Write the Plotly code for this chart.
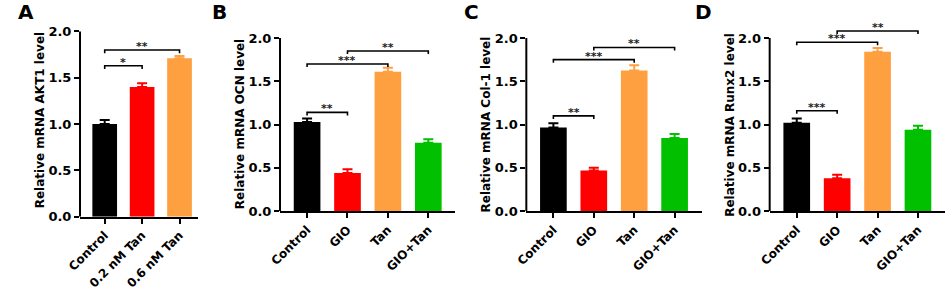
import plotly.graph_objects as go

# ---------------- data ----------------
a_categories = ["Control", "0.2 nM Tan", "0.6 nM Tan"]
a_values = [1.00, 1.40, 1.71]
a_errors = [0.045, 0.04, 0.025]
a_colors = ["#000000", "#FF0000", "#FFA040"]
a_title = "Relative mRNA AKT1 level"
a_brackets = [(0, 1, 1.63, "*"), (0, 2, 1.80, "**")]

bcd_categories = ["Control", "GIO", "Tan", "GIO+Tan"]
bcd_colors = ["#000000", "#FF0000", "#FFA040", "#00C000"]

b_values = [1.03, 0.44, 1.61, 0.79]
b_errors = [0.04, 0.045, 0.045, 0.04]
b_title = "Relative mRNA OCN level"
b_brackets = [(0, 1, 1.14, "**"), (0, 2, 1.70, "***"), (1, 3, 1.85, "**")]

c_values = [0.965, 0.47, 1.625, 0.845]
c_errors = [0.05, 0.03, 0.06, 0.045]
c_title = "Relative mRNA Col-1 level"
c_brackets = [(0, 1, 1.10, "**"), (0, 2, 1.75, "***"), (1, 3, 1.89, "**")]

d_values = [1.02, 0.38, 1.84, 0.94]
d_errors = [0.05, 0.04, 0.045, 0.045]
d_title = "Relative mRNA Runx2 level"
d_brackets = [(0, 1, 1.16, "***"), (0, 2, 1.95, "***"), (1, 3, 2.08, "**")]

y_ticks = [0.0, 0.5, 1.0, 1.5, 2.0]
panel_letters = ["A", "B", "C", "D"]

# ---------------- layout geometry ----------------
W, H = 948, 296
FONT = "DejaVu Sans"
YMAX = 2.25

panels = [
    dict(cats=a_categories, vals=a_values, errs=a_errors, cols=a_colors, title=a_title,
         brackets=a_brackets, xdom=(67, 187), ybot=222.7, y2=32.3, xr=(-0.66, 2.5),
         title_x=26, title_y=124, letter_x=2),
    dict(cats=bcd_categories, vals=b_values, errs=b_errors, cols=bcd_colors, title=b_title,
         brackets=b_brackets, xdom=(270, 448), ybot=217, y2=39, xr=(-0.67, 3.67),
         title_x=229, title_y=128, letter_x=199),
    dict(cats=bcd_categories, vals=c_values, errs=c_errors, cols=bcd_colors, title=c_title,
         brackets=c_brackets, xdom=(520, 698), ybot=217, y2=39, xr=(-0.67, 3.67),
         title_x=479, title_y=128, letter_x=455),
    dict(cats=bcd_categories, vals=d_values, errs=d_errors, cols=bcd_colors, title=d_title,
         brackets=d_brackets, xdom=(767, 945), ybot=217, y2=39, xr=(-0.67, 3.67),
         title_x=726, title_y=128, letter_x=689),
]

fig = go.Figure()
shapes = []
annotations = []
layout = dict(width=W, height=H, margin=dict(l=0, r=0, t=0, b=0),
              plot_bgcolor="white", paper_bgcolor="white", showlegend=False,
              barmode="overlay", font=dict(family=FONT, color="black"))

for i, p in enumerate(panels, start=1):
    xa = "x" if i == 1 else f"x{i}"
    ya = "y" if i == 1 else f"y{i}"
    n = len(p["cats"])
    for k in range(n):
        fig.add_trace(go.Bar(
            x=[k], y=[p["vals"][k]], width=0.66,
            marker=dict(color=p["cols"][k], line=dict(width=0)),
            error_y=dict(type="data", array=[p["errs"][k]], arrayminus=[0], symmetric=False,
                         color=p["cols"][k], thickness=2, width=5),
            xaxis=xa, yaxis=ya, hoverinfo="skip"))

    px_per_unit = (p["ybot"] - p["y2"]) / 2.0
    top_px = p["ybot"] - px_per_unit * YMAX
    ydom = [1 - p["ybot"] / H, 1 - top_px / H]
    xdom = [p["xdom"][0] / W, p["xdom"][1] / W]

    layout["xaxis" if i == 1 else f"xaxis{i}"] = dict(
        domain=xdom, anchor=ya, range=list(p["xr"]),
        tickmode="array", tickvals=list(range(n)), ticktext=p["cats"], tickangle=-45,
        ticks="outside", ticklen=5, tickwidth=2, tickcolor="black",
        showline=True, linewidth=2, linecolor="black", showgrid=False, zeroline=False,
        tickfont=dict(family=FONT, size=12, color="black", weight="bold"), fixedrange=True)
    layout["yaxis" if i == 1 else f"yaxis{i}"] = dict(
        domain=ydom, anchor=xa, range=[0, YMAX],
        tickmode="array", tickvals=y_ticks, tickformat=".1f",
        ticks="outside", ticklen=5, tickwidth=2, tickcolor="black",
        showline=False, showgrid=False, zeroline=False,
        tickfont=dict(family=FONT, size=13, color="black", weight="bold"), fixedrange=True)

    # y axis line stopping at 2.0
    shapes.append(dict(type="line", xref=f"{xa} domain", yref=ya, x0=0, x1=0,
                       y0=0, y1=y_ticks[-1], line=dict(color="black", width=2)))

    # significance brackets
    t = 0.035
    for (i0, i1, yb, lab) in p["brackets"]:
        shapes.append(dict(type="path", xref=xa, yref=ya,
                           path=f"M {i0},{yb - t} L {i0},{yb} L {i1},{yb} L {i1},{yb - t}",
                           line=dict(color="black", width=1.6)))
        annotations.append(dict(x=(i0 + i1) / 2, y=yb, xref=xa, yref=ya, text=lab,
                                showarrow=False, yanchor="bottom", yshift=-5,
                                font=dict(family=FONT, size=11, color="#222222", weight="bold")))

    # y axis title
    annotations.append(dict(x=p["title_x"] / W, y=1 - p["title_y"] / H, xref="paper", yref="paper",
                            text=p["title"], textangle=-90, showarrow=False,
                            xanchor="center", yanchor="middle",
                            font=dict(family=FONT, size=12, color="black", weight="bold")))
    # panel letter
    annotations.append(dict(x=p["letter_x"] / W, y=1 + 2 / H, xref="paper", yref="paper",
                            text=panel_letters[i - 1], showarrow=False,
                            xanchor="left", yanchor="top",
                            font=dict(family=FONT, size=20, color="black", weight="bold")))

layout["shapes"] = shapes
layout["annotations"] = annotations
fig.update_layout(**layout)
fig.write_html("out.html", config={"displayModeBar": False},
               post_script="document.body.style.margin='0';document.body.style.overflow='hidden';")
